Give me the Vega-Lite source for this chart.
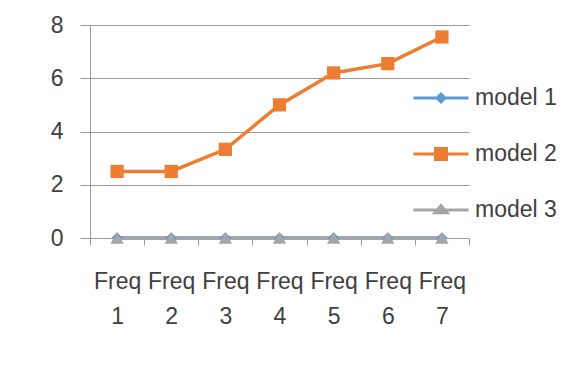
{
  "$schema": "https://vega.github.io/schema/vega-lite/v6.json",
  "autosize": {"type": "none"},
  "padding": {"left": 90, "top": 25, "right": 110, "bottom": 135},
  "width": 379,
  "height": 213,
  "background": "white",
  "config": {
    "view": {"stroke": null},
    "font": "Liberation Sans",
    "axis": {
      "labelFont": "Liberation Sans",
      "labelFontSize": 23,
      "labelColor": "#404040",
      "domainColor": "#9a9a9a",
      "tickColor": "#9a9a9a",
      "gridColor": "#9a9a9a",
      "domainWidth": 1,
      "tickWidth": 1,
      "gridWidth": 1
    }
  },
  "data": {
    "values": [
      {"freq": "Freq 1", "model": "model 1", "value": 0},
      {"freq": "Freq 2", "model": "model 1", "value": 0},
      {"freq": "Freq 3", "model": "model 1", "value": 0},
      {"freq": "Freq 4", "model": "model 1", "value": 0},
      {"freq": "Freq 5", "model": "model 1", "value": 0},
      {"freq": "Freq 6", "model": "model 1", "value": 0},
      {"freq": "Freq 7", "model": "model 1", "value": 0},
      {"freq": "Freq 1", "model": "model 2", "value": 2.5},
      {"freq": "Freq 2", "model": "model 2", "value": 2.5},
      {"freq": "Freq 3", "model": "model 2", "value": 3.33},
      {"freq": "Freq 4", "model": "model 2", "value": 5},
      {"freq": "Freq 5", "model": "model 2", "value": 6.2},
      {"freq": "Freq 6", "model": "model 2", "value": 6.55},
      {"freq": "Freq 7", "model": "model 2", "value": 7.55},
      {"freq": "Freq 1", "model": "model 3", "value": 0},
      {"freq": "Freq 2", "model": "model 3", "value": 0},
      {"freq": "Freq 3", "model": "model 3", "value": 0},
      {"freq": "Freq 4", "model": "model 3", "value": 0},
      {"freq": "Freq 5", "model": "model 3", "value": 0},
      {"freq": "Freq 6", "model": "model 3", "value": 0},
      {"freq": "Freq 7", "model": "model 3", "value": 0}
    ]
  },
  "encoding": {
    "x": {
      "field": "freq",
      "type": "nominal",
      "sort": null,
      "title": null,
      "scale": {"paddingInner": 0, "paddingOuter": 0},
      "axis": {
        "labelAngle": 0,
        "tickBand": "extent",
        "grid": false,
        "tickSize": 7,
        "labelPadding": 25,
        "labelBaseline": "top",
        "labelLineHeight": 35,
        "labelExpr": "split(datum.label, ' ')"
      }
    },
    "y": {
      "field": "value",
      "type": "quantitative",
      "title": null,
      "scale": {"domain": [0, 8], "nice": false},
      "axis": {
        "values": [0, 2, 4, 6, 8],
        "grid": true,
        "tickSize": 10,
        "labelPadding": 17,
        "domain": true
      }
    },
    "color": {
      "field": "model",
      "type": "nominal",
      "scale": {"domain": ["model 1", "model 2", "model 3"], "range": ["#5B9BD5", "#ED7D31", "#A5A5A5"]},
      "legend": {
        "title": null,
        "orient": "none",
        "legendX": 322,
        "legendY": 44,
        "labelFont": "Liberation Sans",
        "labelFontSize": 23,
        "labelColor": "#404040",
        "labelOffset": 5,
        "rowPadding": 15,
        "symbolSize": 3025,
        "encode": {
          "symbols": {
            "update": {
              "shape": {"signal": "datum.value == 'model 1' ? 'M-1,0H1M0,-0.14L0.14,0L0,0.14L-0.14,0Z' : datum.value == 'model 2' ? 'M-1,0H1M-0.2,-0.2H0.2V0.2H-0.2Z' : 'M-1,0H1M0,-0.16L0.22,0.1L-0.22,0.1Z'"},
              "fill": {"scale": "color", "field": "value"},
              "stroke": {"scale": "color", "field": "value"},
              "strokeWidth": {"value": 3},
              "size": {"value": 3025},
              "opacity": {"value": 1}
            }
          }
        }
      }
    }
  },
  "layer": [
    {
      "mark": {"type": "line", "strokeWidth": 3.5},
      "encoding": {
        "detail": {"field": "model"}
      }
    },
    {
      "transform": [{"filter": "datum.model == 'model 1'"}],
      "mark": {"type": "point", "filled": true, "opacity": 1, "size": 130, "shape": "diamond"}
    },
    {
      "transform": [{"filter": "datum.model == 'model 2'"}],
      "mark": {"type": "point", "filled": true, "opacity": 1, "size": 175, "shape": "square"}
    },
    {
      "transform": [{"filter": "datum.model == 'model 3'"}],
      "mark": {"type": "point", "filled": true, "opacity": 1, "size": 180, "shape": "triangle-up"}
    }
  ]
}
